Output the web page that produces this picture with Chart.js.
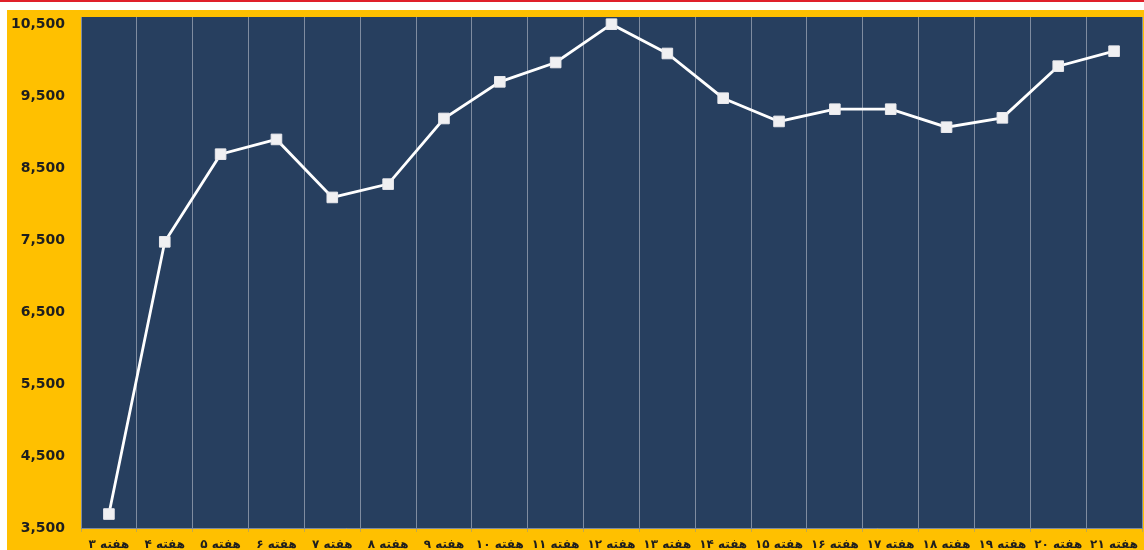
<!DOCTYPE html>
<html>
<head>
<meta charset="utf-8">
<script src="https://cdn.jsdelivr.net/npm/chart.js@4/dist/chart.umd.min.js"></script>
<style>
  html, body { margin: 0; padding: 0; background: #fff; overflow: hidden; }
  body { width: 1144px; height: 550px; position: relative; }
  #topline { position: absolute; left: 0; top: 0; width: 1144px; height: 2px; background: #e0202a; }
  #wrap { position: absolute; left: 7px; top: 10px; width: 1137px; height: 544px; background: #ffc000; }
</style>
</head>
<body>
<div id="topline"></div>
<div id="wrap"><canvas id="lineChart" width="1137" height="544"></canvas></div>
<script>
var weeks = ['هفته ۳', 'هفته ۴', 'هفته ۵', 'هفته ۶', 'هفته ۷', 'هفته ۸', 'هفته ۹', 'هفته ۱۰', 'هفته ۱۱',
    'هفته ۱۲', 'هفته ۱۳', 'هفته ۱۴', 'هفته ۱۵', 'هفته ۱۶', 'هفته ۱۷', 'هفته ۱۸', 'هفته ۱۹', 'هفته ۲۰', 'هفته ۲۱']
var values = [3694, 7476, 8694, 8899, 8093, 8278, 9190, 9699, 9968, 10500,
    10093, 9472, 9149, 9319, 9319, 9069, 9199, 9917, 10125]
var yTicks = [3500, 4500, 5500, 6500, 7500, 8500, 9500, 10500]
var yMin = 3500
var yMax = 10600

// navy plot area
var plotBg = {
    id: 'plotBg',
    beforeDraw(chart) {
        var a = chart.chartArea
        var ctx = chart.ctx
        ctx.save()
        ctx.fillStyle = '#273f5f'
        ctx.fillRect(a.left, a.top, a.right - a.left, a.bottom - a.top)
        ctx.restore()
    }
}

var lineChart = new Chart(document.querySelector('#lineChart'), {
    type: 'line',
    data: {
        labels: weeks,
        datasets: [{
            data: values,
            borderColor: '#ffffff',
            borderWidth: 2.8,
            tension: 0,
            pointStyle: 'rect',
            pointRadius: 7.5,
            pointBackgroundColor: '#f0f0f2',
            pointBorderColor: '#e8e8ec',
            pointBorderWidth: 1,
            clip: false
        }]
    },
    options: {
        responsive: false,
        animation: false,
        layout: { autoPadding: false, padding: { top: 7, right: 2, left: 0, bottom: 0 } },
        plugins: { legend: { display: false }, tooltip: { enabled: false } },
        scales: {
            x: {
                offset: true,
                grid: {
                    display: true,
                    offset: true,
                    color: '#7f8ca0',
                    lineWidth: 1,
                    tickLength: 4,
                    tickColor: '#c0a850'
                },
                border: { display: true, color: '#7f8ca0' },
                ticks: {
                    autoSkip: false,
                    maxRotation: 0,
                    padding: 6,
                    color: '#1e1e1e',
                    font: { family: 'DejaVu Sans', size: 12, weight: 'bold' }
                },
                afterFit(scale) {
                    scale.height = 26
                    scale.paddingLeft = 0
                    scale.paddingRight = 0
                }
            },
            y: {
                min: yMin,
                max: yMax,
                grid: { display: false, drawTicks: false },
                border: { display: true, color: '#7f8ca0' },
                afterBuildTicks(scale) {
                    scale.ticks = yTicks.map(v => ({ value: v }))
                },
                ticks: {
                    padding: 16,
                    color: '#1e1e1e',
                    font: { family: 'DejaVu Sans', size: 14, weight: 'bold' },
                    callback: v => v.toLocaleString('en-US')
                },
                afterFit(scale) {
                    scale.width = 74
                    scale.paddingTop = 0
                    scale.paddingBottom = 0
                }
            }
        }
    },
    plugins: [plotBg]
})
</script>
</body>
</html>
